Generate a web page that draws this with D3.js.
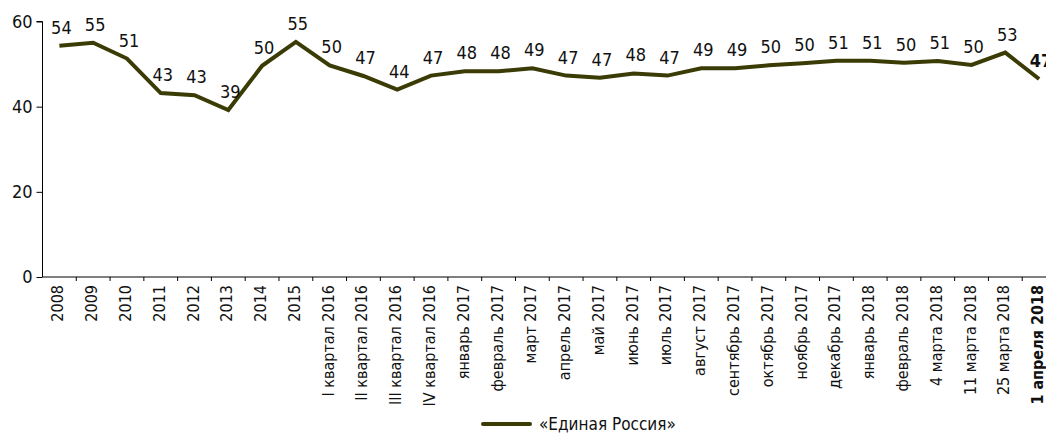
<!DOCTYPE html>
<html>
<head>
<meta charset="utf-8">
<script src="https://cdn.jsdelivr.net/npm/d3@7"></script>
<style>
  body { margin: 0; background: #fff; }
  svg text { font-family: "DejaVu Sans Condensed", "DejaVu Sans", sans-serif; font-stretch: condensed; fill: #111; }
</style>
</head>
<body>
<svg id="chart" width="1046" height="433"></svg>
<script>
const categories = [
  "2008", "2009", "2010", "2011", "2012", "2013", "2014", "2015",
  "I квартал 2016", "II квартал 2016", "III квартал 2016", "IV квартал 2016",
  "январь 2017", "февраль 2017", "март 2017", "апрель 2017", "май 2017", "июнь 2017",
  "июль 2017", "август 2017", "сентябрь 2017", "октябрь 2017", "ноябрь 2017", "декабрь 2017",
  "январь 2018", "февраль 2018", "4 марта 2018", "11 марта 2018", "25 марта 2018", "1 апреля 2018"
];
const values = [
  54.3, 55.0, 51.3, 43.2, 42.7, 39.2, 49.6, 55.2,
  49.7, 47.2, 44.0, 47.3,
  48.3, 48.3, 49.0, 47.3, 46.8, 47.8,
  47.3, 49.0, 49.0, 49.7, 50.2, 50.8,
  50.8, 50.3, 50.7, 49.8, 52.7, 46.5
];
const yTicks = [0, 20, 40, 60];
const seriesName = "«Единая Россия»";

const svg = d3.select("#chart");
const lineColor = "#3b3b06";

const x = d3.scaleBand()
  .domain(categories)
  .range([42.5, 1056]);

const y = d3.scaleLinear()
  .domain([0, 60])
  .range([277, 21.5]);

// y axis
const yAxis = svg.append("g")
  .attr("transform", "translate(42.5,0)")
  .call(d3.axisLeft(y).tickValues(yTicks).tickSize(6).tickPadding(4));
yAxis.select(".domain").attr("stroke", "#000").attr("d", "M-6," + y(60) + "H0V" + y(0));
yAxis.selectAll("line").attr("stroke", "#000");
yAxis.selectAll("text").style("font-size", "18px").attr("fill", "#111");

// x axis: ticks between categories
const xAxisG = svg.append("g").attr("transform", "translate(0," + y(0) + ")");
xAxisG.append("line")
  .attr("x1", 42.5).attr("x2", 1056)
  .attr("stroke", "#000");
xAxisG.selectAll("line.tk")
  .data(categories)
  .enter().append("line")
  .attr("class", "tk")
  .attr("x1", d => x(d) + x.bandwidth())
  .attr("x2", d => x(d) + x.bandwidth())
  .attr("y1", 0).attr("y2", 4)
  .attr("stroke", "#000");
xAxisG.selectAll("text")
  .data(categories)
  .enter().append("text")
  .attr("transform", d => "translate(" + (x(d) + x.bandwidth() / 2 + 4) + ",8) rotate(-90)")
  .attr("text-anchor", "end")
  .style("font-size", "16px")
  .style("font-weight", (d, i) => i === categories.length - 1 ? "bold" : "normal")
  .text(d => d);

// line
const line = d3.line()
  .x((d, i) => x(categories[i]) + x.bandwidth() / 2)
  .y(d => y(d));

svg.append("path")
  .datum(values)
  .attr("fill", "none")
  .attr("stroke", lineColor)
  .attr("stroke-width", 4)
  .attr("stroke-linejoin", "miter")
  .attr("d", line);

// data labels
svg.append("g")
  .selectAll("text")
  .data(values)
  .enter().append("text")
  .attr("x", (d, i) => x(categories[i]) + x.bandwidth() / 2 + 2)
  .attr("y", d => y(d) - 12)
  .attr("text-anchor", "middle")
  .style("font-size", "18px")
  .style("font-weight", (d, i) => i === values.length - 1 ? "bold" : "normal")
  .text(d => Math.round(d));

// legend
const legend = svg.append("g").attr("transform", "translate(483,424)");
legend.append("line")
  .attr("x1", 0).attr("x2", 47)
  .attr("stroke", lineColor)
  .attr("stroke-width", 4)
  .attr("stroke-linecap", "round");
legend.append("text")
  .attr("x", 56).attr("y", 6)
  .style("font-size", "17px")
  .text(seriesName);
</script>
</body>
</html>
